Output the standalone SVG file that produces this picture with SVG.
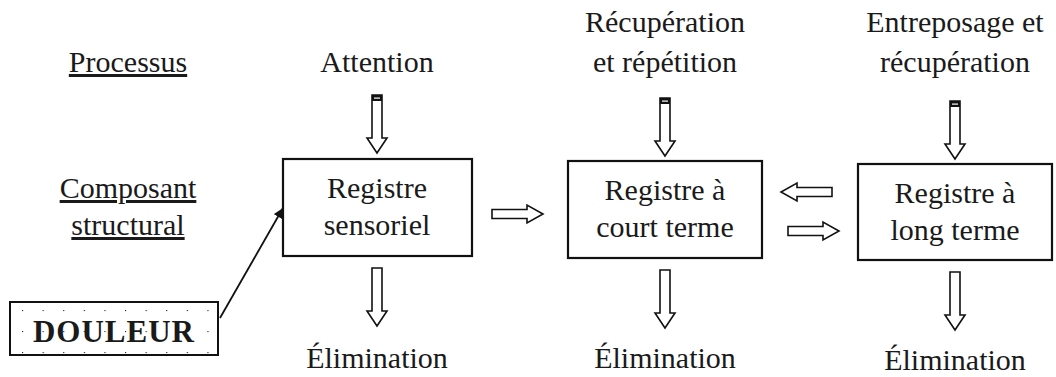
<svg xmlns="http://www.w3.org/2000/svg" width="1056" height="377" viewBox="0 0 1056 377">
  <style>
    .t { font-family: "Liberation Serif", "Times New Roman", serif; font-size: 30px; fill: #1a1a1a; text-anchor: middle; }
    .u { text-decoration: underline; }
    .bold { font-weight: bold; font-size: 31px; letter-spacing: 1px; }
    .box { fill: #fff; stroke: #111; stroke-width: 2.2; }
    .blk { fill: #fff; stroke: #111; stroke-width: 1.6; stroke-linejoin: miter; }
    .link { stroke: #111; stroke-width: 1.8; fill: none; }
  </style>
  <defs>
    <pattern id="dots" x="22" y="310" width="20.6" height="21" patternUnits="userSpaceOnUse">
      <circle cx="0" cy="0" r="1.3" fill="#222"/>
    </pattern>
    <marker id="tri" viewBox="0 0 10 10" refX="10" refY="5" markerWidth="10" markerHeight="10" markerUnits="userSpaceOnUse" orient="auto">
      <path d="M0,0 L10,5 L0,10 z" fill="#111"/>
    </marker>
    <!-- hollow block arrow pointing down, origin at shaft top centre -->
    <g id="down">
      <path class="blk" d="M-5,0 H5 V43 H10 L0,58 L-10,43 H-5 Z"/>
    </g>
    <g id="downCap">
      <path class="blk" d="M-5,0 H5 V43 H10 L0,58 L-10,43 H-5 Z"/>
      <rect x="-5" y="0" width="10" height="6" fill="#111"/>
      <rect x="-3" y="2.5" width="6" height="1.2" fill="#fff"/>
    </g>
    <!-- hollow block arrow pointing right, origin at shaft left centre -->
    <g id="right">
      <path class="blk" d="M0,-4.5 H35 V-9 L51,0 L35,9 V4.5 H0 Z"/>
    </g>
  </defs>

  <!-- row headings -->
  <g id="heading-processus">
    <text class="t u" x="128" y="72">Processus</text>
  </g>
  <g id="heading-composant">
    <text class="t u" x="128" y="198">Composant</text>
    <text class="t u" x="128" y="235">structural</text>
  </g>

  <!-- process labels -->
  <g id="label-attention"><text class="t" x="377" y="72">Attention</text></g>
  <g id="label-recuperation">
    <text class="t" x="665" y="32">Récupération</text>
    <text class="t" x="665" y="72">et répétition</text>
  </g>
  <g id="label-entreposage">
    <text class="t" x="955" y="32">Entreposage et</text>
    <text class="t" x="955" y="72">récupération</text>
  </g>

  <!-- structural components -->
  <g id="registre-sensoriel">
    <rect class="box" x="283" y="159" width="189" height="97"/>
    <text class="t" x="377" y="198">Registre</text>
    <text class="t" x="377" y="235">sensoriel</text>
  </g>
  <g id="registre-court">
    <rect class="box" x="568" y="161" width="194" height="97"/>
    <text class="t" x="665" y="200">Registre à</text>
    <text class="t" x="665" y="237">court terme</text>
  </g>
  <g id="registre-long">
    <rect class="box" x="858" y="164" width="194" height="96"/>
    <text class="t" x="955" y="203">Registre à</text>
    <text class="t" x="955" y="240">long terme</text>
  </g>

  <g id="douleur">
    <rect x="10" y="302" width="208" height="53" fill="url(#dots)" stroke="#111" stroke-width="2"/>
    <text class="t bold" x="114" y="342">DOULEUR</text>
  </g>

  <!-- outputs -->
  <g id="elimination-1"><text class="t" x="377" y="368">Élimination</text></g>
  <g id="elimination-2"><text class="t" x="665" y="368">Élimination</text></g>
  <g id="elimination-3"><text class="t" x="955" y="370">Élimination</text></g>

  <!-- connectors -->
  <g id="connectors">
    <use href="#downCap" x="377" y="95"/>
    <use href="#downCap" x="665" y="98"/>
    <use href="#downCap" x="955" y="101"/>
    <use href="#down" x="377" y="268"/>
    <use href="#down" x="665" y="270"/>
    <use href="#down" x="955" y="272"/>
    <use href="#right" x="492" y="214"/>
    <use href="#right" x="788" y="231"/>
    <use href="#right" transform="translate(832,192) scale(-1,1)"/>
    <line class="link" x1="220" y1="318" x2="283" y2="208" marker-end="url(#tri)"/>
  </g>
</svg>
